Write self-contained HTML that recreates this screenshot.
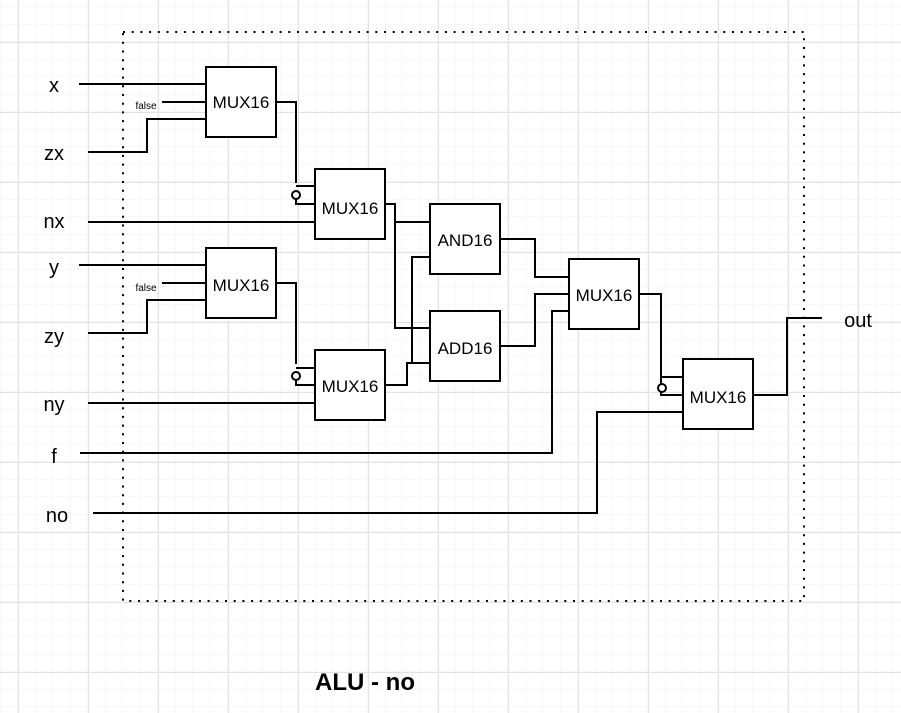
<!DOCTYPE html>
<html><head><meta charset="utf-8"><style>
html,body{margin:0;padding:0;background:#fff}
svg{display:block}
text{font-family:"Liberation Sans",Arial,sans-serif;fill:#000}
</style></head><body>
<svg width="901" height="713" xmlns="http://www.w3.org/2000/svg">
<defs>
<pattern id="minor" x="0.5" y="7" width="17.5" height="17.5" patternUnits="userSpaceOnUse">
<path d="M17.5 0V17.5M0 17.5H17.5" stroke="#f2f2f2" stroke-width="1" fill="none"/>
</pattern>
<pattern id="major" x="18" y="42" width="70" height="70" patternUnits="userSpaceOnUse">
<path d="M0 0V70M0 0H70" stroke="#e2e2e2" stroke-width="1" fill="none" transform="translate(0.5,0.5)"/>
</pattern>
</defs>
<rect width="901" height="713" fill="url(#minor)"/>
<rect width="901" height="713" fill="url(#major)"/>
<rect x="123" y="32" width="681" height="569" fill="none" stroke="#000" stroke-width="2" stroke-dasharray="2 6.7"/>
<g fill="none" stroke="#000" stroke-width="2">
<rect x="206" y="67" width="70" height="70" fill="#fff"/>
<path d="M79 84H206M162 102H206M88 152H147V119H206"/>
<path d="M276 102H296V183M296 199V204H315M296 186H315"/>
<circle cx="296" cy="195" r="4" fill="#fff"/>
<rect x="315" y="169" width="70" height="70" fill="#fff"/>
<path d="M88 222H315"/>
<path d="M385 204H395V328H430M395 222H430"/>
<rect x="206" y="248" width="70" height="70" fill="#fff"/>
<path d="M79 265H206M162 283H206M88 333H147V300H206"/>
<path d="M276 283H296V364M296 380V385H315M296 368H315"/>
<circle cx="296" cy="376" r="4" fill="#fff"/>
<rect x="315" y="350" width="70" height="70" fill="#fff"/>
<path d="M88 403H315"/>
<path d="M385 385H407V363H430M412 363V257H430"/>
<rect x="430" y="204" width="70" height="70" fill="#fff"/>
<rect x="430" y="311" width="70" height="70" fill="#fff"/>
<path d="M500 239H535V277H569M500 346H535V294H569"/>
<rect x="569" y="259" width="70" height="70" fill="#fff"/>
<path d="M80 453H552V311H569"/>
<path d="M639 294H661V384M661 392V395H683M661 377H683"/>
<circle cx="662" cy="388" r="4" fill="#fff"/>
<rect x="683" y="359" width="70" height="70" fill="#fff"/>
<path d="M93 513H597V412H683"/>
<path d="M753 395H787V318H822"/>
</g>
<g font-size="17" text-anchor="middle">
<text x="241" y="108">MUX16</text>
<text x="350" y="214">MUX16</text>
<text x="241" y="291">MUX16</text>
<text x="350" y="392">MUX16</text>
<text x="465" y="246">AND16</text>
<text x="465" y="354">ADD16</text>
<text x="604" y="301">MUX16</text>
<text x="718" y="403">MUX16</text>
</g>
<g font-size="10" text-anchor="middle">
<text x="146" y="109">false</text>
<text x="146" y="291">false</text>
</g>
<g font-size="20" text-anchor="middle">
<text x="54" y="92">x</text>
<text x="54" y="160">zx</text>
<text x="54" y="228">nx</text>
<text x="54" y="274">y</text>
<text x="54" y="343">zy</text>
<text x="54" y="411">ny</text>
<text x="54" y="463">f</text>
<text x="57" y="522">no</text>
<text x="858" y="327">out</text>
</g>
<text x="365" y="690" font-size="24" font-weight="bold" text-anchor="middle">ALU - no</text>
</svg>
</body></html>
